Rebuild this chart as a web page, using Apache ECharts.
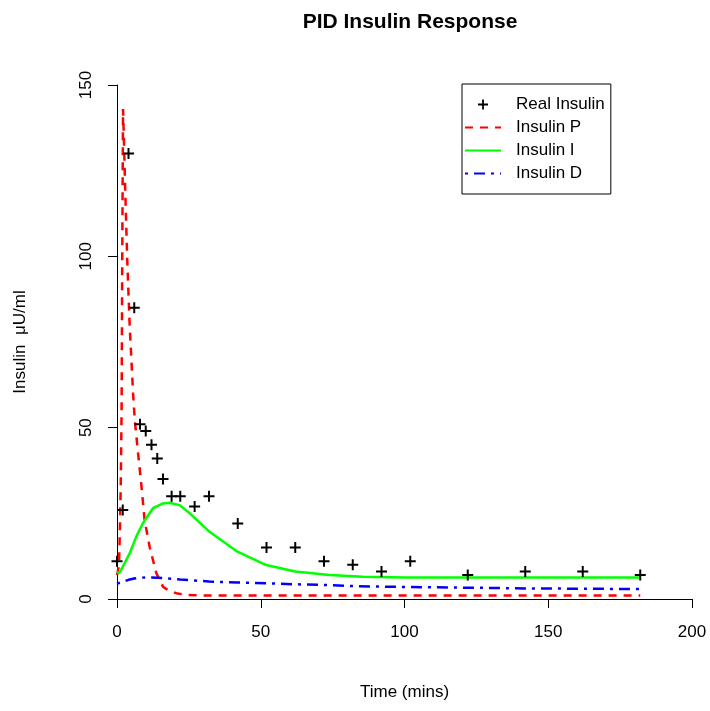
<!DOCTYPE html>
<html>
<head>
<meta charset="utf-8">
<script src="https://cdn.jsdelivr.net/npm/echarts@6/dist/echarts.min.js"></script>
<style>
  html, body { margin: 0; padding: 0; background: #fff; }
  #chart { width: 710px; height: 711px; }
</style>
</head>
<body>
<div id="chart"></div>
<script>
// 实测数据 (时间 mins, 胰岛素 uU/ml)
const realTime = [0, 2, 4, 6, 8, 10, 12, 14, 16, 19, 22, 27, 32, 42, 52, 62, 72, 82, 92, 102, 122, 142, 162, 182];
const realInsulin = [11, 26, 130, 85, 51, 49, 45, 41, 35, 30, 30, 27, 30, 22, 15, 15, 11, 10, 8, 11, 7, 8, 8, 7];

// P 分量
const pTime = [0, 0.4, 0.7, 1.0, 1.3, 1.6, 1.8, 2.0, 2.1, 2.4, 2.9, 3.6, 4.4, 5.0, 5.6, 6.2, 7.4, 8.5, 9.6, 11.4, 13.7, 16, 18, 20.6, 24, 30, 182];
const insulinP = [7, 8.5, 10, 20, 33, 55, 95, 128, 143, 134, 118, 98, 80, 70, 60, 52, 42, 33, 23, 15, 7.5, 3.6, 2.4, 1.7, 1.2, 1, 1];

// I 分量
const iTime = [0, 0.7, 2, 4.4, 6.7, 9, 12.5, 16, 18.3, 21.8, 25.3, 32.2, 41.9, 51.9, 62, 73.9, 85.5, 100, 120, 182];
const insulinI = [8, 7.5, 9.4, 13.3, 18.2, 22.1, 26.5, 27.9, 28.1, 27.4, 25, 19.6, 13.8, 9.9, 8, 7, 6.5, 6.3, 6.3, 6.3];

// D 分量 (与实测同一时间点)
const insulinD = [4.5, 5.0, 5.6, 6.0, 6.2, 6.3, 6.3, 6.2, 6.1, 5.9, 5.7, 5.4, 5.1, 4.8, 4.6, 4.3, 4.1, 3.8, 3.6, 3.5, 3.3, 3.1, 3.0, 2.9];

const xTicks = [0, 50, 100, 150, 200];
const yTicks = [0, 50, 100, 150];

const FONT = '"Liberation Sans", Arial, Helvetica, sans-serif';
const plusPath = 'path://M4.1,0H5.9V4.1H10V5.9H5.9V10H4.1V5.9H0V4.1H4.1Z';

const zip = (xs, ys) => xs.map((x, i) => [x, ys[i]]);

const chart = echarts.init(document.getElementById('chart'));

const option = {
  animation: false,
  backgroundColor: '#fff',
  title: {
    text: 'PID Insulin Response',
    left: 405,
    top: 7,
    textAlign: 'center',
    textStyle: { fontFamily: FONT, fontSize: 21, fontWeight: 'bold', color: '#000' }
  },
  legend: {
    left: 462,
    top: 84,
    orient: 'vertical',
    padding: [12, 6, 12, 2],
    itemWidth: 36,
    itemHeight: 10,
    itemGap: 6,
    borderColor: '#000',
    borderWidth: 1,
    borderRadius: 0,
    backgroundColor: '#fff',
    textStyle: { fontFamily: FONT, fontSize: 17, color: '#000', padding: [0, 0, 0, 10] },
    data: [
      { name: 'Real Insulin', icon: plusPath },
      { name: 'Insulin P', itemStyle: { opacity: 0 } },
      { name: 'Insulin I', itemStyle: { opacity: 0 } },
      { name: 'Insulin D', itemStyle: { opacity: 0 } }
    ]
  },
  grid: { left: 117, right: 18, top: 85, bottom: 112 },
  xAxis: {
    type: 'value',
    min: xTicks[0],
    max: xTicks[xTicks.length - 1],
    interval: 50,
    name: 'Time (mins)',
    nameLocation: 'middle',
    nameGap: 85,
    nameTextStyle: { fontFamily: FONT, fontSize: 17, color: '#000' },
    axisLine: { show: true, onZero: false, lineStyle: { color: '#000', width: 1 } },
    axisTick: { show: true, length: 9, lineStyle: { color: '#000' } },
    axisLabel: { fontFamily: FONT, fontSize: 17, color: '#000', margin: 25 },
    splitLine: { show: false }
  },
  yAxis: {
    type: 'value',
    min: yTicks[0],
    max: yTicks[yTicks.length - 1],
    interval: 50,
    name: 'Insulin  μU/ml',
    nameLocation: 'middle',
    nameGap: 88,
    nameRotate: 90,
    nameTextStyle: { fontFamily: FONT, fontSize: 17, color: '#000' },
    axisLine: { show: true, onZero: false, lineStyle: { color: '#000', width: 1 } },
    axisTick: { show: true, length: 9, lineStyle: { color: '#000' } },
    axisLabel: { fontFamily: FONT, fontSize: 17, color: '#000', margin: 22, rotate: 90 },
    splitLine: { show: false }
  },
  series: [
    {
      name: 'Real Insulin',
      type: 'scatter',
      symbol: plusPath,
      symbolSize: 11,
      itemStyle: { color: '#000', opacity: 1 },
      z: 5,
      data: zip(realTime, realInsulin)
    },
    {
      name: 'Insulin P',
      type: 'line',
      showSymbol: false,
      symbol: 'none',
      smooth: false,
      lineStyle: { color: '#ff0000', width: 2.5, type: [8, 7] },
      itemStyle: { color: '#ff0000' },
      data: zip(pTime, insulinP)
    },
    {
      name: 'Insulin I',
      type: 'line',
      showSymbol: false,
      symbol: 'none',
      smooth: false,
      lineStyle: { color: '#00ff00', width: 2.5, type: 'solid' },
      itemStyle: { color: '#00ff00' },
      data: zip(iTime, insulinI)
    },
    {
      name: 'Insulin D',
      type: 'line',
      showSymbol: false,
      symbol: 'none',
      smooth: false,
      lineStyle: { color: '#0000ff', width: 2.5, type: [3, 6, 11, 6] },
      itemStyle: { color: '#0000ff' },
      data: zip(realTime, insulinD)
    }
  ]
};

chart.setOption(option);
</script>
</body>
</html>
